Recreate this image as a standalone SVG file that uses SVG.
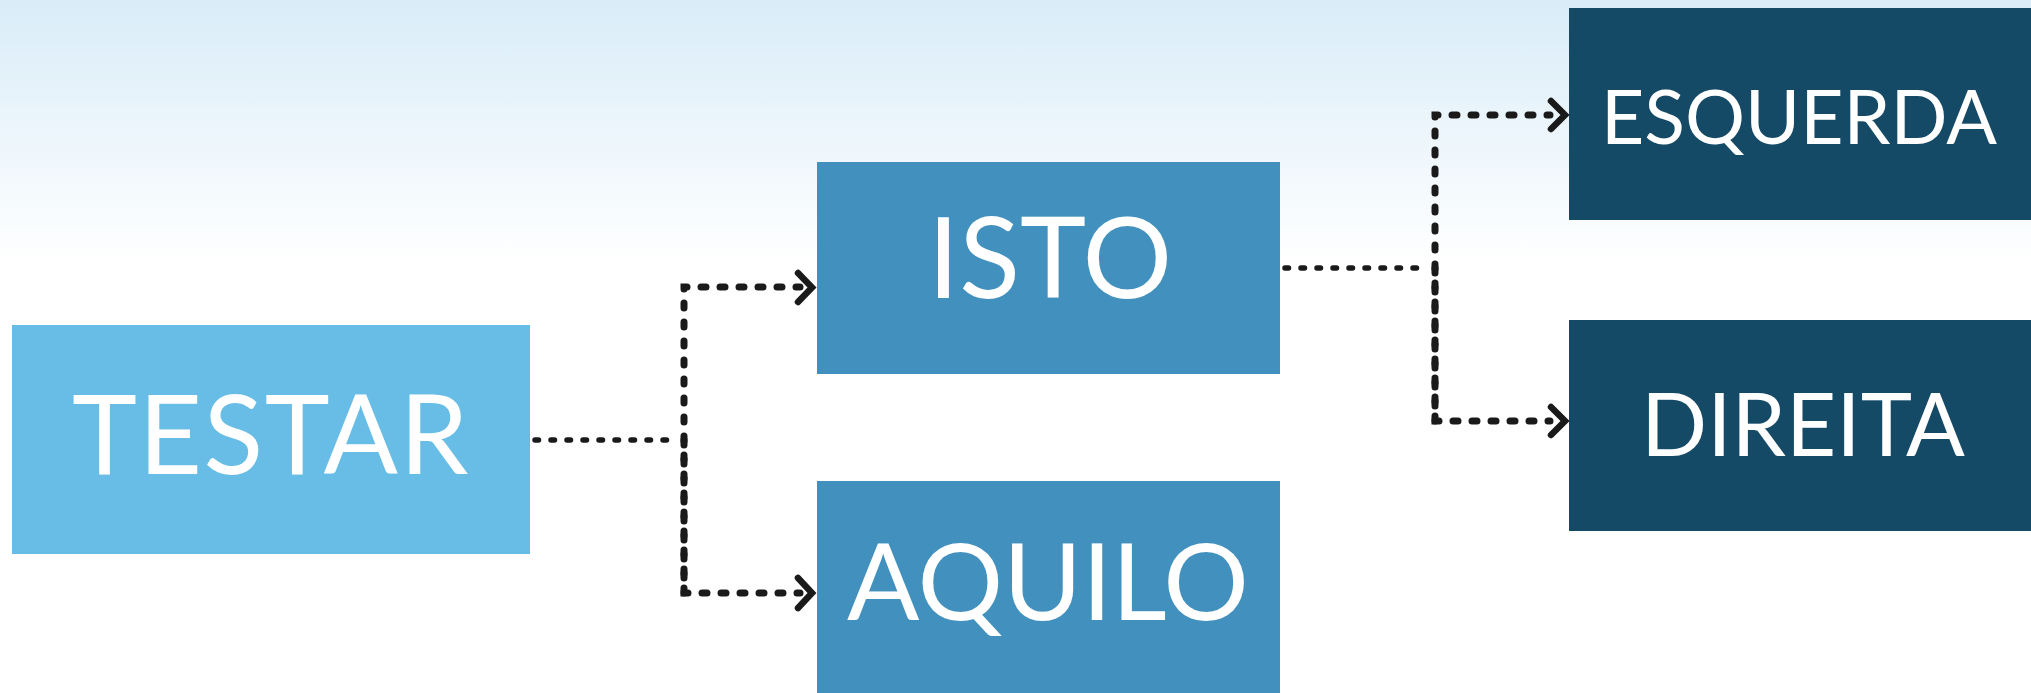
<svg xmlns="http://www.w3.org/2000/svg" width="2031" height="693" viewBox="0 0 2031 693">
<defs>
<linearGradient id="bg" x1="0" y1="0" x2="0" y2="1">
<stop offset="0" stop-color="#d9ecf8"/>
<stop offset="0.38" stop-color="#ffffff"/>
<stop offset="1" stop-color="#ffffff"/>
</linearGradient>
<style>
.lbl{font-family:Lato,"Open Sans",sans-serif;fill:#ffffff;text-anchor:middle}
.dot{fill:none;stroke:#1a1a1a;stroke-width:7;stroke-linecap:round;stroke-dasharray:5 14}
.dotn{fill:none;stroke:#1a1a1a;stroke-width:5.5;stroke-linecap:round;stroke-dasharray:3.5 12.5}
.chev{fill:none;stroke:#1a1a1a;stroke-width:6.5;stroke-linecap:round;stroke-linejoin:miter}
</style>
</defs>
<rect width="2031" height="693" fill="url(#bg)"/>
<g id="testar">
<rect x="12" y="325" width="518" height="229" fill="#67bde5"/>
<text class="lbl" x="271" y="474" font-size="110" letter-spacing="1.5">TESTAR</text>
</g>
<g id="isto">
<rect x="817" y="162" width="463" height="212" fill="#4190bd"/>
<text class="lbl" x="1050" y="298" font-size="112">ISTO</text>
</g>
<g id="aquilo">
<rect x="817" y="481" width="463" height="212" fill="#4190bd"/>
<text class="lbl" x="1048" y="620" font-size="107">AQUILO</text>
</g>
<g id="esquerda">
<rect x="1569" y="8" width="462" height="212" fill="#154a66"/>
<text class="lbl" x="1799" y="144" font-size="75">ESQUERDA</text>
</g>
<g id="direita">
<rect x="1569" y="320" width="462" height="211" fill="#154a66"/>
<text class="lbl" x="1803" y="456" font-size="87">DIREITA</text>
</g>
<g id="connectors">
<path class="dotn" d="M535 440 H673"/>
<path class="dot" d="M684 593 V287 H800"/>
<path class="dot" d="M684 440 V593 H800"/>
<path class="chev" d="M798 273 L812 287.5 L798 302"/>
<path class="chev" d="M798 578 L812 593 L798 608"/>
<path class="dotn" d="M1285 268 H1424"/>
<path class="dot" d="M1435 421 V115 H1550"/>
<path class="dot" d="M1435 268 V421 H1550"/>
<path class="chev" d="M1551 101 L1565 115 L1551 129"/>
<path class="chev" d="M1551 407 L1565 421 L1551 435"/>
</g>
</svg>
